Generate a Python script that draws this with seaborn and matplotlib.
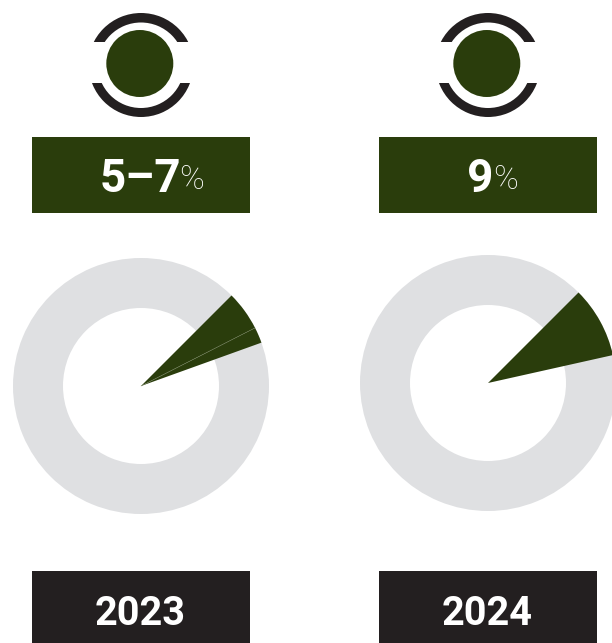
import numpy as np
import matplotlib
matplotlib.use("Agg")
import matplotlib.pyplot as plt
from matplotlib.patches import Circle, Rectangle, Wedge
import seaborn as sns

years = ["2023", "2024"]
value_labels = ["5–7", "9"]
seg_2023 = [5, 2, 93]
seg_2024 = [9, 91]
all_segments = [seg_2023, seg_2024]

GREEN, BLACK, GREY = "#2A3D0C", "#231F20", "#DFE0E2"
W, H = 612, 643
sns.set_theme(style="white")

fig = plt.figure(figsize=(W / 100, H / 100), dpi=100, facecolor="white")
ax = fig.add_axes([0, 0, 1, 1])


def Y(y):
    return H - y


centers = [(141, 386), (488, 383)]
icon_dx = [0, 347]
box_x = [32, 379]
digit_x = [140, 480]
pct_x = [192, 506]

for i, segs in enumerate(all_segments):
    cx, cy = centers[i]
    # grey ring
    ax.pie([sum(segs)], center=(cx, Y(cy)), radius=128, colors=[GREY],
           wedgeprops=dict(width=50, linewidth=0), startangle=45)
    # highlighted share, drawn from the centre out to the ring edge
    hi = segs[:-1]
    ax.pie(hi + [sum(segs) - sum(hi)], center=(cx, Y(cy)), radius=128, startangle=45,
           counterclock=False, colors=[GREEN] * len(hi) + ["none"],
           wedgeprops=dict(linewidth=0))
    if len(hi) > 1:
        a = np.deg2rad(45 - hi[0] * 3.6)
        ax.plot([cx, cx + 128 * np.cos(a)], [Y(cy), Y(cy) + 128 * np.sin(a)],
                color="#6F7D58", lw=0.4, zorder=5)

    # icon
    dx = icon_dx[i]
    top = Wedge((141 + dx, Y(66)), 53, 0, 360, width=9.5, color=BLACK, lw=0)
    ax.add_patch(top)
    top.set_clip_path(Rectangle((60 + dx, Y(41.5)), 160, 41.5, transform=ax.transData))
    bot = Wedge((141 + dx, Y(64.7)), 52.3, 0, 360, width=9, color=BLACK, lw=0)
    ax.add_patch(bot)
    bot.set_clip_path(Rectangle((60 + dx, Y(125)), 160, 42, transform=ax.transData))
    ax.add_patch(Circle((139.8 + dx, Y(63.5)), 33.5, color=GREEN, lw=0))

    # boxes
    ax.add_patch(Rectangle((box_x[i], Y(213)), 218, 76, color=GREEN, lw=0))
    ax.add_patch(Rectangle((box_x[i], Y(643)), 218, 72, color=BLACK, lw=0))

    # texts
    ax.text(digit_x[i], Y(192), value_labels[i], family="Roboto", weight="bold",
            fontsize=33, color="white", ha="center", va="baseline")
    ax.text(pct_x[i], Y(189), "%", family="Roboto", weight="light",
            fontsize=24, color="white", ha="center", va="baseline")
    ax.text(box_x[i] + 108, Y(625), years[i], family="Roboto", weight="bold",
            fontsize=28.5, color="white", ha="center", va="baseline")

ax.set_xlim(0, W)
ax.set_ylim(0, H)
ax.set_aspect("equal")
ax.set_axis_off()
fig.savefig("out.png", dpi=100, facecolor="white")
